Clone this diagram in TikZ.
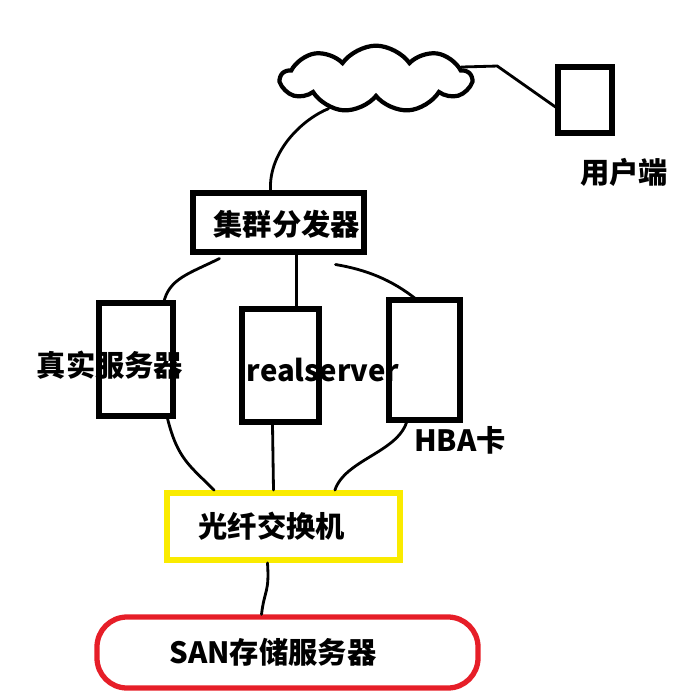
\documentclass[tikz,border=0pt]{standalone}
\usepackage{fontspec}
\usetikzlibrary{calc,shapes.symbols}
\newfontfamily\cjk{Noto Sans CJK SC}
\definecolor{swyellow}{RGB}{250,235,0}
\definecolor{sanred}{RGB}{230,30,40}
\newcommand{\lblfont}[0]{\cjk\bfseries\fontsize{25}{30}\selectfont}

\begin{document}
\begin{tikzpicture}[x=0.03cm,y=-0.03cm,
        box/.style={draw, line width=4.3pt, inner sep=0pt},
        wire/.style={line width=2.4pt, line cap=round},
        lbl/.style={font=\lblfont, inner sep=0pt},
    ]
        \useasboundingbox (0,0) rectangle (692,697);
        % Add cloud and client
        \node[cloud, draw, line width=3.6pt, cloud puffs=9, cloud puff arc=110, aspect=2.6,
            minimum width=5.7cm, minimum height=2.0cm, inner sep=0pt] (net) at (376,79) {};
        \node[box, minimum width=1.62cm, minimum height=1.98cm] (user) at (585,100) {};
        \node[lbl] (userlbl) at (624,172) {用户端};
        % Add dispatcher and real servers
        \node[box, minimum width=5.13cm, minimum height=1.77cm, text depth=0pt] (disp) at (278.5,222.5) {\hspace{14pt}\lblfont 集群分发器};
        \node[box, minimum width=2.22cm, minimum height=3.39cm] (srv1) at (136,359.5) {};
        \node[box, minimum width=2.31cm, minimum height=3.39cm] (srv2) at (280.5,365.5) {};
        \node[box, minimum width=2.13cm, minimum height=3.6cm] (srv3) at (424.5,360) {};
        \node[lbl] (srv1lbl) at (110,365) {真实服务器};
        \node[lbl] (srv2lbl) at (323,370) {realserver};
        \node[lbl] (srv3lbl) at (460,440) {HBA卡};
        % Add switch and storage
        \node[draw=swyellow, line width=5pt, minimum width=6.99cm, minimum height=2.01cm, inner sep=0pt] (switch) at (283.5,526.5) {\hspace{-20pt}\lblfont 光纤交换机};
        \node[draw=sanred, line width=4.5pt, rounded corners=0.9cm, minimum width=11.43cm, minimum height=2.13cm, inner sep=0pt] (san) at (287.5,652.5) {\hspace{-25pt}\lblfont SAN存储服务器};
        % Add links
        \draw[wire] ($(disp.north)+(-8,0)$) .. controls +(-2,-40) and +(-25,10) .. (net.212);
        \draw[wire] (net.8) -- ++(36,-1) -- ($(user.west)+(0,7)$);
        \draw[wire] ($(disp.south west)+(29,4)$) .. controls +(-30,15) and +(5,-25) .. ($(srv1.north east)+(-12,3)$);
        \draw[wire] ($(disp.south)+(18,0)$) -- ($(srv2.north)+(16,0)$);
        \draw[wire] ($(disp.south east)+(-31,10)$) .. controls +(30,5) and +(-25,-20) .. ($(srv3.north west)+(30,2)$);
        \draw[wire] ($(srv1.south east)+(-8,0)$) .. controls +(10,40) and +(-25,-25) .. ($(switch.north west)+(50,0)$);
        \draw[wire] ($(srv2.south)+(-8,0)$) -- ($(switch.north)+(-10,0)$);
        \draw[wire] ($(srv3.south west)+(20,0)$) .. controls +(-10,30) and +(10,-30) .. ($(switch.north east)+(-68,0)$);
        \draw[wire] ($(switch.south)+(-16,0)$) .. controls +(2,30) and +(3,-25) .. ($(san.north)+(-26,0)$);
\end{tikzpicture}
\end{document}
